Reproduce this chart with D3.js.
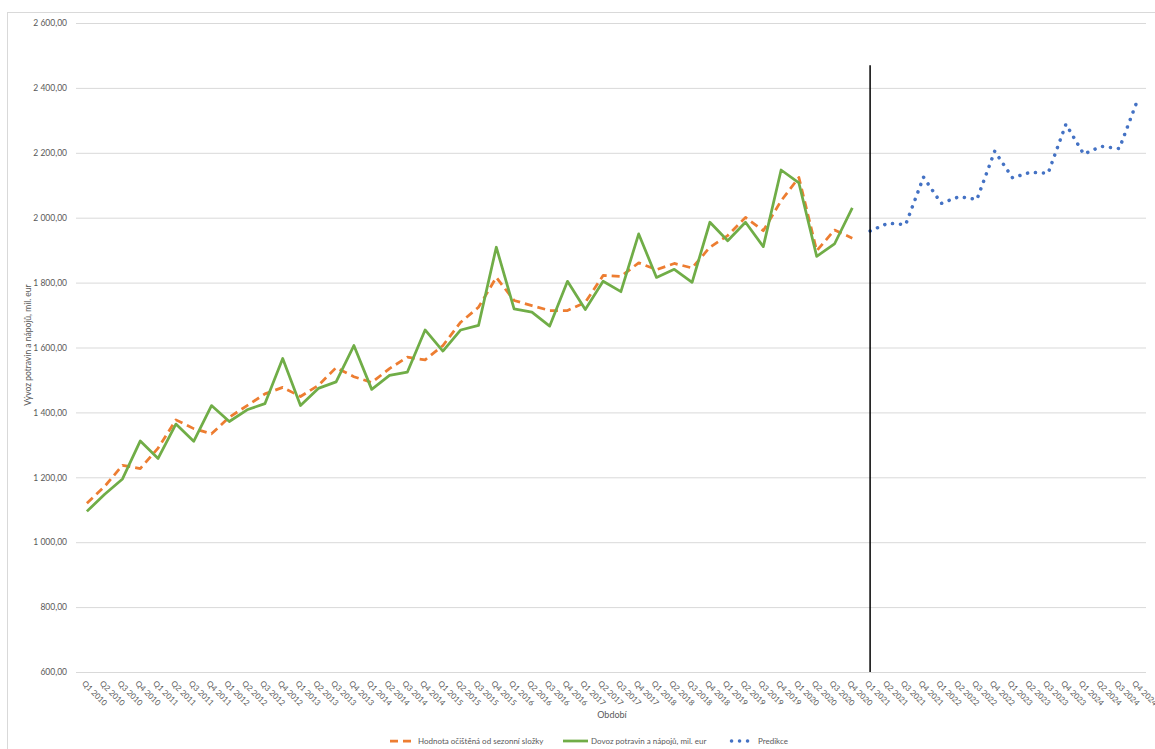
<!DOCTYPE html>
<html>
<head>
<meta charset="utf-8">
<script src="https://d3js.org/d3.v7.min.js"></script>
<style>
    body { margin: 0; background: #fff; }
    text { font-family: Lato, "Liberation Sans", sans-serif; fill: #595959; }
    .grid line { stroke: #d9d9d9; stroke-width: 1px; }
    .line { fill: none; stroke-linejoin: round; }
</style>
</head>
<body>
<script>
    // quarters Q1 2010 .. Q4 2024
    var years = [2010, 2011, 2012, 2013, 2014, 2015, 2016, 2017, 2018, 2019, 2020, 2021, 2022, 2023, 2024];
    var quarters = [];
    years.forEach(function(yr) {
        ["Q1", "Q2", "Q3", "Q4"].forEach(function(q) { quarters.push(q + " " + yr); });
    });

    // seasonally adjusted value, Q1 2010 - Q4 2020
    var adjusted = [1120, 1172, 1237, 1227, 1290, 1377, 1350, 1334, 1385, 1421, 1457, 1477,
        1449, 1483, 1538, 1510, 1492, 1535, 1570, 1562, 1606, 1678, 1724, 1816,
        1745, 1729, 1714, 1714, 1739, 1822, 1819, 1861, 1840, 1859, 1845, 1909,
        1945, 2001, 1960, 2052, 2124, 1898, 1962, 1937];

    // import of food and beverages, Q1 2010 - Q4 2020
    var imports = [1095, 1148, 1195, 1312, 1258, 1364, 1311, 1421, 1372, 1408, 1427, 1566,
        1421, 1474, 1494, 1606, 1471, 1514, 1524, 1654, 1589, 1654, 1668, 1909,
        1719, 1709, 1666, 1804, 1717, 1804, 1772, 1950, 1816, 1841, 1801, 1986,
        1929, 1986, 1911, 2147, 2107, 1881, 1919, 2030];

    // prediction, Q1 2021 - Q4 2024
    var prediction = [1959, 1983, 1979, 2125, 2044, 2065, 2056, 2205,
        2123, 2140, 2137, 2288, 2196, 2220, 2213, 2359];

    var yTicks = [600, 800, 1000, 1200, 1400, 1600, 1800, 2000, 2200, 2400, 2600];

    var width = 1155, height = 749;
    var svg = d3.select("body").append("svg")
        .attr("width", width)
        .attr("height", height);

    // chart area border
    svg.append("rect")
        .attr("x", 7.5).attr("y", 12.5)
        .attr("width", 1300).attr("height", 900)
        .attr("fill", "none")
        .attr("stroke", "#d9d9d9");

    var x = d3.scalePoint().domain(quarters).range([78, 1146]).padding(0.5);
    var y = d3.scaleLinear().domain([600, 2600]).range([672, 23]);

    var locale = d3.formatLocale({decimal: ",", thousands: " ", grouping: [3], currency: ["", ""]});
    var fmt = locale.format(",.2f");

    // y axis + gridlines
    var yAxis = svg.append("g")
        .attr("class", "grid")
        .attr("transform", "translate(76,0)")
        .call(d3.axisLeft(y).tickValues(yTicks).tickSize(-1070).tickPadding(9).tickFormat(fmt));
    yAxis.select(".domain").remove();
    yAxis.selectAll("text").style("font-size", "8.5px").attr("fill", "#595959");

    // x axis labels
    var xAxis = svg.append("g")
        .attr("transform", "translate(0,672)")
        .call(d3.axisBottom(x).tickSize(0));
    xAxis.select(".domain").remove();
    xAxis.selectAll("text")
        .attr("x", 0).attr("y", 0).attr("dy", null)
        .attr("transform", "translate(-6,12) rotate(45)")
        .style("text-anchor", "start")
        .style("font-size", "8px")
        .attr("fill", "#595959");

    var histQ = quarters.slice(0, adjusted.length);
    var predQ = quarters.slice(adjusted.length);

    var line = d3.line()
        .x(function(d) { return x(d[0]); })
        .y(function(d) { return y(d[1]); });

    // seasonally adjusted (orange dashed)
    svg.append("path")
        .datum(d3.zip(histQ, adjusted))
        .attr("class", "line")
        .attr("stroke", "#ED7D31")
        .attr("stroke-width", 2.75)
        .attr("stroke-dasharray", "8,5")
        .attr("d", line);

    // imports (green)
    svg.append("path")
        .datum(d3.zip(histQ, imports))
        .attr("class", "line")
        .attr("stroke", "#70AD47")
        .attr("stroke-width", 2.75)
        .attr("d", line);

    // prediction (blue dotted)
    svg.append("path")
        .datum(d3.zip(predQ, prediction))
        .attr("class", "line")
        .attr("stroke", "#4472C4")
        .attr("stroke-width", 3.5)
        .attr("stroke-linecap", "round")
        .attr("stroke-dasharray", "0.1,7.9")
        .attr("d", line);

    // divider at start of prediction
    svg.append("line")
        .attr("x1", x(predQ[0])).attr("x2", x(predQ[0]))
        .attr("y1", y(600)).attr("y2", y(2470))
        .attr("stroke", "#000")
        .attr("stroke-width", 1.5);

    // axis titles
    svg.append("text")
        .attr("transform", "translate(31,345) rotate(-90)")
        .attr("text-anchor", "middle")
        .style("font-size", "8.5px")
        .text("Vývoz potravin a nápojů, mil. eur");

    svg.append("text")
        .attr("x", 612).attr("y", 718)
        .attr("text-anchor", "middle")
        .style("font-size", "9px")
        .text("Období");

    // legend
    var legend = [
        {name: "Hodnota očištěná od sezonní složky", color: "#ED7D31", dash: "8,5", w: 2.75, cap: "butt", x: 390},
        {name: "Dovoz potravin a nápojů, mil. eur", color: "#70AD47", dash: null, w: 2.75, cap: "butt", x: 563},
        {name: "Predikce", color: "#4472C4", dash: "0.1,7.9", w: 3.5, cap: "round", x: 730}
    ];
    var lg = svg.selectAll(".lg").data(legend).enter().append("g")
        .attr("transform", function(d) { return "translate(" + d.x + ",741)"; });
    lg.append("line")
        .attr("x1", function(d) { return d.cap == "round" ? 1.5 : 0; })
        .attr("x2", 25).attr("y1", 0).attr("y2", 0)
        .attr("stroke", function(d) { return d.color; })
        .attr("stroke-width", function(d) { return d.w; })
        .attr("stroke-linecap", function(d) { return d.cap; })
        .attr("stroke-dasharray", function(d) { return d.dash; });
    lg.append("text")
        .attr("x", function(d) { return d.cap == "round" ? 28 : 28; })
        .attr("y", 3)
        .style("font-size", "8px")
        .text(function(d) { return d.name; });
</script>
</body>
</html>
